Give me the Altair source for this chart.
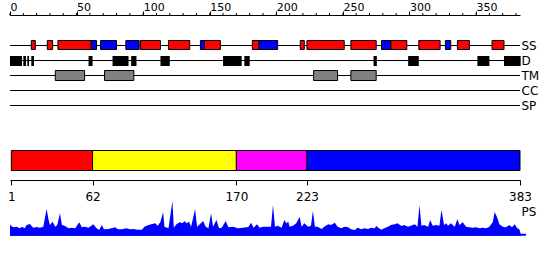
import altair as alt
import pandas as pd

SEQ_LEN = 383

# ---- data ----
ruler_labels = [0, 50, 100, 150, 200, 250, 300, 350]
ruler_minor = [0, 10, 20, 30, 40, 50, 60, 70, 80, 90, 100, 110, 120, 130, 140, 150,
               160, 170, 180, 190, 200, 210, 220, 230, 240, 250, 260, 270, 280, 290,
               300, 310, 320, 330, 340, 350, 360, 370, 380]

tracks = ["SS", "D", "TM", "CC", "SP"]

ss_start = [16, 28, 36, 61, 68, 87, 98, 119, 143, 146, 182, 187, 218, 223, 256, 279, 286, 307, 327, 336, 362]
ss_end = [19, 32, 61, 65, 80, 97, 113, 135, 146, 158, 187, 201, 221, 251, 275, 286, 298, 323, 331, 345, 371]
ss_type = ["H", "H", "H", "E", "E", "E", "H", "H", "E", "H", "H", "E", "H", "H", "H", "E", "H", "H", "E", "H", "H"]

d_start = [0, 10, 13, 16, 59, 77, 91, 113, 160, 176, 273, 299, 351, 371]
d_end = [9, 12, 14.3, 18, 62, 89, 95, 120, 174, 180, 275.5, 307, 360, 383.5]

tm_start = [34, 71, 228, 256]
tm_end = [56, 93, 246, 275]

dom_name = ["A", "B", "C", "D"]
dom_start = [1, 62, 170, 223]
dom_end = [62, 170, 223, 383]
dom_ticks = [1, 62, 170, 223, 383]

ps_pos = [0, 2.5, 5, 7.5, 9, 11, 12.5, 15, 16, 17.5, 20, 22.5, 25, 27.5, 29, 30, 32, 34, 35.5, 37.5,
          39, 41, 44, 46, 49, 52, 54, 56, 59, 62.5, 65, 67, 69, 70.5, 74, 79, 81, 84, 87.5, 90,
          92.5, 96, 99, 101, 104, 106, 109, 111, 113, 115, 116, 119, 122, 123, 125, 127.5, 129.5, 131, 132.5, 134.5,
          136, 139, 140.5, 142.5, 145, 147, 149, 151, 152.5, 155, 157, 159, 162, 164, 167.5, 171, 175, 179, 181, 183,
          185.5, 187.5, 190, 194, 196, 197.5, 199, 201, 204, 206, 207.5, 209, 210, 212.5, 215, 217.5, 219, 221, 224, 226,
          227.5, 229, 231, 234, 236, 239, 241, 244, 246, 249, 251, 254, 256, 259, 261, 264, 266, 269, 271, 274,
          275, 276, 279, 281, 284, 286, 289, 291, 294, 296, 299, 301, 304, 306, 307.5, 309, 311, 314, 315.5, 317.5,
          320, 322.5, 324, 326, 327.5, 329, 331, 334, 336, 337.5, 340, 342.5, 345, 347.5, 350, 352.5, 355, 357.5, 360, 362.5,
          364, 366, 367.5, 370, 372.5, 375, 377, 379, 381, 382.5, 383.5]
ps_val = [10.7, 8.4, 9, 7.4, 9, 7.4, 10.7, 11.7, 10, 8, 8.7, 8, 9, 26.7, 15.7, 10.7, 14, 9, 10.7, 22.4,
          10.7, 10, 7.4, 8, 7.4, 13.4, 8.4, 9, 8, 11.4, 7.4, 5.7, 10.7, 6.4, 6.7, 8.4, 6.4, 6.4, 7.4, 6.4,
          6.7, 6, 6, 9, 10.7, 11.4, 12.4, 10, 14, 23.4, 9, 7.4, 34.7, 8, 11.4, 13.4, 12.4, 14.7, 12.4, 14,
          9, 26.7, 9, 11.4, 14.7, 9, 7.4, 22.4, 9, 15.7, 7.4, 8, 14.7, 8.4, 9, 7.4, 8, 8.7, 13, 8,
          11.4, 8, 9, 9, 9, 30.7, 9, 10, 8, 15.7, 12.4, 14, 9, 10, 12.4, 19, 9, 12.4, 9, 10,
          24.7, 9, 9, 6.7, 9, 11.4, 10.7, 13, 9, 7.4, 9, 8.4, 6.4, 5.7, 8, 6.4, 7.4, 6.7, 8, 7.4,
          10, 8.4, 6, 7.4, 9, 10.7, 11.4, 12.4, 9.7, 10.7, 9, 10, 11.4, 9, 30.7, 10, 10.7, 9, 15.7, 10,
          10.7, 10, 25.7, 10.7, 12.4, 10, 12.4, 9, 16.7, 10.7, 13.4, 9, 8.4, 8, 8.4, 7.4, 8, 7.4, 9, 13.4,
          23.7, 17.7, 11.4, 9, 8.4, 10.7, 8.4, 11.4, 7.4, 6.4, 2]

# ---- tables ----
track_df = pd.DataFrame({"name": tracks, "s": [0] * len(tracks), "e": [SEQ_LEN] * len(tracks)})
minor_df = pd.DataFrame({"t": ruler_minor})
ss_df = pd.DataFrame({"s": ss_start, "e": ss_end, "type": ss_type})
d_df = pd.DataFrame({"s": d_start, "e": d_end})
tm_df = pd.DataFrame({"s": tm_start, "e": tm_end})
dom_df = pd.DataFrame({"name": dom_name, "s": dom_start, "e": dom_end})
ps_df = pd.DataFrame({"pos": ps_pos, "val": ps_val})
ps_lab = pd.DataFrame({"name": ["PS"]})

FONT = "DejaVu Sans"
xs = alt.Scale(domain=[0, SEQ_LEN], nice=False, zero=False)
track_y = alt.Y("name:N", scale=alt.Scale(type="point", domain=tracks, range=[45.5, 105.5], padding=0), axis=None)

top_axis = alt.Axis(orient="top", offset=-15, values=ruler_labels, tickSize=4, labelPadding=1,
                    labelAlign="left", labelBaseline="alphabetic", labelFlush=False, grid=False,
                    title=None, domainColor="black", tickColor="black", labelColor="black",
                    labelFont=FONT, labelFontSize=11)
bottom_axis = alt.Axis(orient="bottom", offset=-80, values=dom_ticks, tickSize=5, labelPadding=6,
                       labelAlign="center", labelFlush=False, grid=False, title=None,
                       domainColor="black", tickColor="black", labelColor="black",
                       labelFont=FONT, labelFontSize=12, labelOverlap=False)

lines = alt.Chart(track_df).mark_rule(color="black", strokeWidth=1).encode(
    x=alt.X("s:Q", scale=xs, axis=top_axis), x2="e:Q", y=track_y)

minor = alt.Chart(minor_df).mark_rule(color="black", strokeWidth=1).encode(
    x=alt.X("t:Q", scale=xs, axis=None), y=alt.value(13), y2=alt.value(15.5))

tm = alt.Chart(tm_df).mark_rect(fill="#808080", stroke="black", strokeWidth=1).encode(
    x=alt.X("s:Q", scale=xs, axis=None), x2="e:Q", y=alt.value(70.5), y2=alt.value(80.5))

dis = alt.Chart(d_df).mark_rect(fill="black").encode(
    x=alt.X("s:Q", scale=xs, axis=None), x2="e:Q", y=alt.value(56), y2=alt.value(66))

ss = alt.Chart(ss_df).mark_rect(stroke="black", strokeWidth=1).encode(
    x=alt.X("s:Q", scale=xs, axis=None), x2="e:Q", y=alt.value(40.5), y2=alt.value(49.5),
    fill=alt.Fill("type:N", scale=alt.Scale(domain=["H", "E"], range=["#ff0000", "#0000ff"]), legend=None))

labels = alt.Chart(track_df).mark_text(align="left", baseline="middle", font=FONT, fontSize=12,
                                        color="black").encode(
    x=alt.value(511.5), y=track_y, text="name:N")

doms = alt.Chart(dom_df).mark_rect(stroke="black", strokeWidth=1).encode(
    x=alt.X("s:Q", scale=xs, axis=bottom_axis), x2="e:Q", y=alt.value(150.5), y2=alt.value(170.5),
    fill=alt.Fill("name:N", scale=alt.Scale(domain=dom_name,
                                            range=["#ff0000", "#ffff00", "#ff00ff", "#0000ff"]), legend=None))

ps_area = alt.Chart(ps_df).mark_area(color="#0000ff", opacity=1).encode(
    x=alt.X("pos:Q", scale=xs, axis=None),
    y=alt.Y("val:Q", scale=alt.Scale(domain=[0, 35.5], range=[235.7, 200.2], zero=True, nice=False), axis=None))

ps_base = alt.Chart(ps_lab).mark_rule(color="#0000ff", strokeWidth=2).encode(
    x=alt.value(0), x2=alt.value(516), y=alt.value(234.7))

ps_text = alt.Chart(ps_lab).mark_text(align="left", baseline="middle", font=FONT, fontSize=12,
                                       color="black").encode(
    x=alt.value(511.5), y=alt.value(211.5), text="name:N")

chart = alt.layer(lines, minor, tm, dis, ss, labels, doms, ps_area, ps_base, ps_text).resolve_scale(
    y="independent", fill="independent").resolve_axis(x="independent").properties(
    width=510, height=260, autosize=alt.AutoSizeParams(type="none"),
    padding={"left": 10, "top": 0, "right": 30, "bottom": 0}, background="white"
).configure_view(stroke=None)

chart.save("out.html", embed_options={"renderer": "svg", "actions": False})
